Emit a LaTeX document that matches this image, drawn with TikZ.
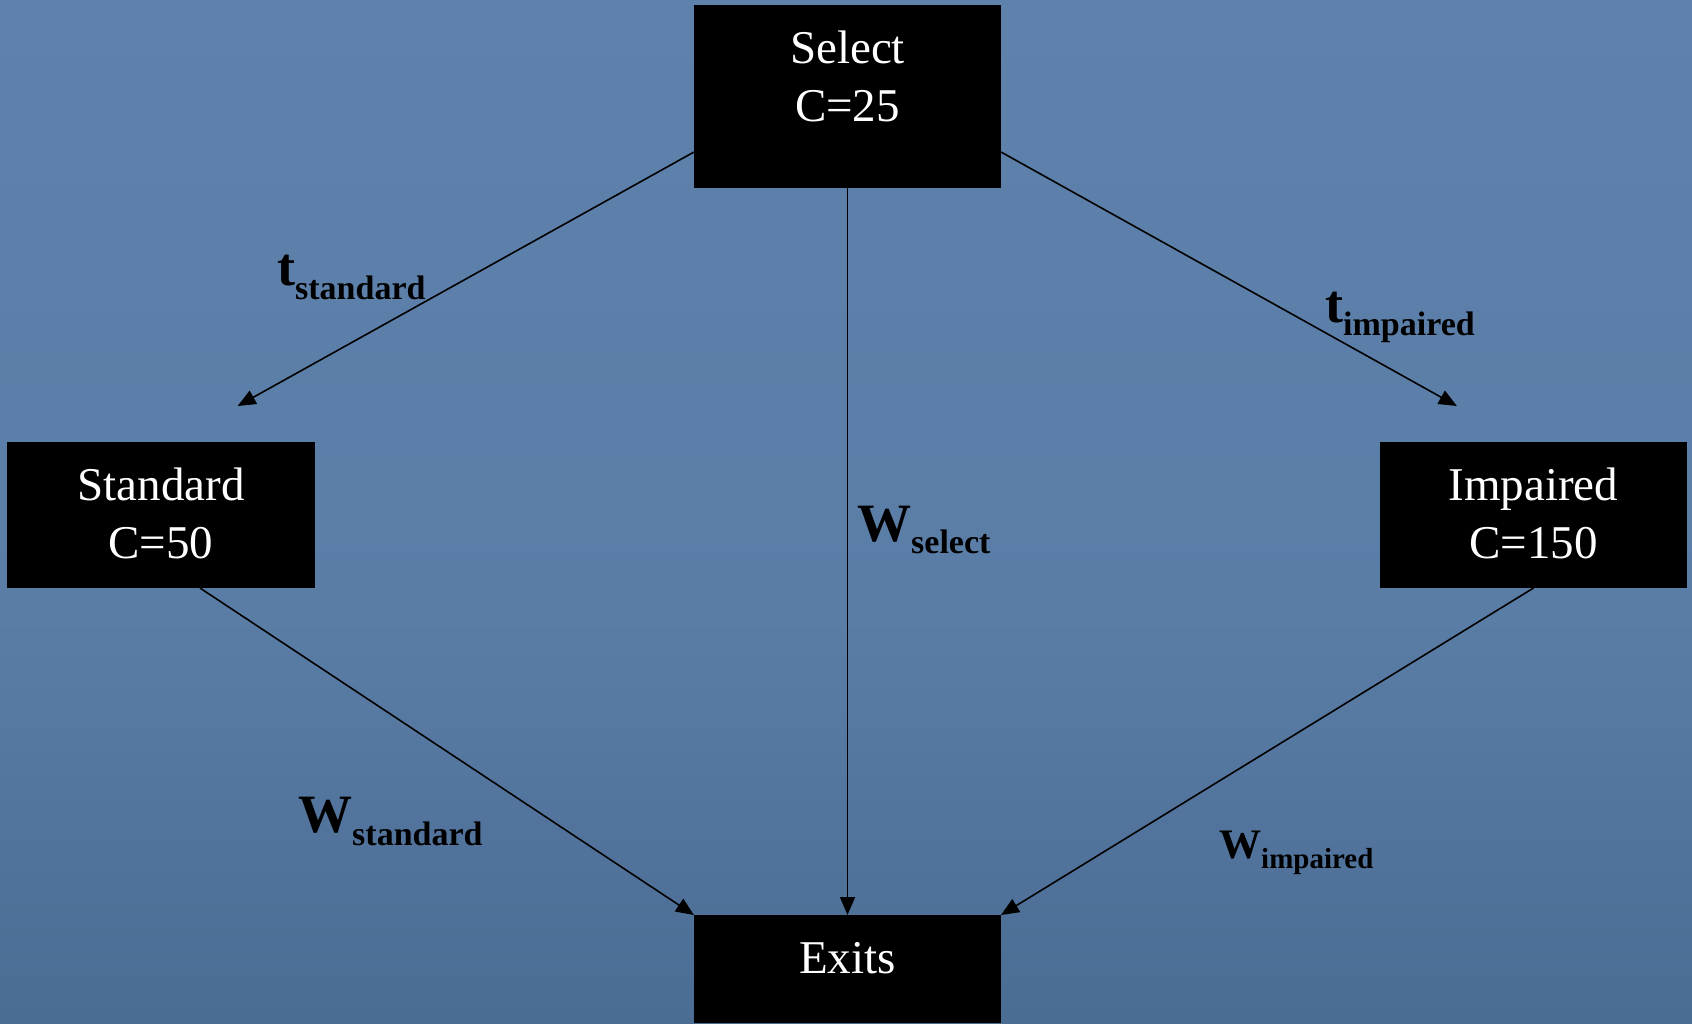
\documentclass[tikz,border=0pt]{standalone}
\usepackage{fontspec}
\setmainfont{Liberation Serif}
\usetikzlibrary{arrows.meta,calc}
\definecolor{bgtop}{RGB}{94,130,172}
\definecolor{bgmid}{RGB}{90,125,166}
\definecolor{bgbot}{RGB}{75,108,147}
\pgfdeclareverticalshading{bgshade}{100bp}{color(0bp)=(bgbot); color(25bp)=(bgbot); color(45bp)=(bgmid); color(75bp)=(bgtop); color(100bp)=(bgtop)}
\newcommand\boxtxt[3]{\parbox[c][#2][t]{#1}{\centering\fontsize{47}{58}\selectfont\rule{0pt}{58pt}#3}}
\newcommand\lbl[5]{{\bfseries\fontsize{#1}{#1}\selectfont #2}\raisebox{#3}{\bfseries\fontsize{#4}{#4}\selectfont #5}}
\begin{document}
\begin{tikzpicture}[x=1pt,y=-1pt,
  box/.style={fill=black,text=white,inner sep=0pt,outer sep=0pt,anchor=north west},
  conn/.style={line width=1.6pt,-{Triangle[length=18pt,width=15pt]}},
  lab/.style={inner sep=0pt,anchor=base west,text=black}]
\useasboundingbox (0,0) rectangle (1692,1023);
\shade[shading=bgshade] (0,0) rectangle (1692,1023);

\node[box] (sel) at (694,5) {\boxtxt{307pt}{183pt}{Select\\C=25}};
\node[box] (std) at (7,442) {\boxtxt{308pt}{146pt}{Standard\\C=50}};
\node[box] (imp) at (1380,442) {\boxtxt{307pt}{146pt}{Impaired\\C=150}};
\node[box] (ex) at (694,915) {\boxtxt{307pt}{108pt}{Exits}};

\draw[conn, shorten >=74pt] ($(sel.south west)+(0,-36)$) -- ($(std.north)+(12,0)$);
\draw[conn, shorten >=74pt] ($(sel.south east)+(0,-36)$) -- ($(imp.north)+(-12,0)$);
\draw[conn] (sel.south) -- (ex.north);
\draw[conn] ($(std.south)+(39,0)$) -- (ex.north west);
\draw[conn] (imp.south) -- (ex.north east);

\node[lab] (ts) at (277,285) {\lbl{54}{t}{-14pt}{34}{standard}};
\node[lab] (ti) at (1325,322) {\lbl{54}{t}{-13pt}{34}{impaired}};
\node[lab] (ws) at (857,541) {\lbl{54}{W}{-12pt}{34}{select}};
\node[lab] (wst) at (298,832) {\lbl{54}{W}{-13pt}{34}{standard}};
\node[lab] (wi) at (1219,858) {\lbl{42}{W}{-10pt}{29}{impaired}};
\end{tikzpicture}
\end{document}
